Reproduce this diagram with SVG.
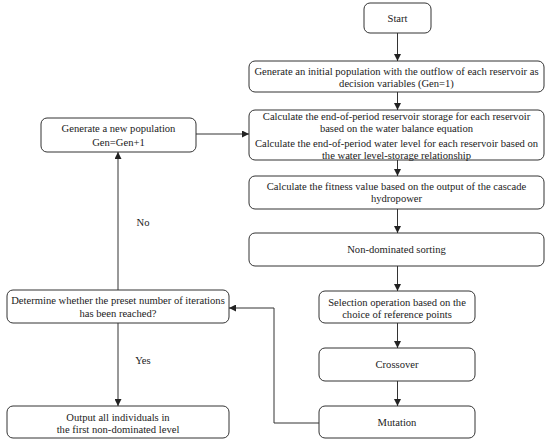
<svg xmlns="http://www.w3.org/2000/svg" width="550" height="442" viewBox="0 0 550 442">
<style>
.b{fill:#fff;stroke:#333;stroke-width:1}
.t{font-family:'Liberation Serif','Times New Roman',serif;font-size:10.6px;fill:#222;text-anchor:middle}
.c{fill:none;stroke:#333;stroke-width:1}
</style>
<defs>
<marker id="a" viewBox="0 0 8 8" refX="8" refY="4" markerWidth="7" markerHeight="7" markerUnits="userSpaceOnUse" orient="auto">
<path d="M0,0 L8,4 L0,8 z" fill="#222"/>
</marker>
</defs>
<rect width="550" height="442" fill="#fff"/>
<g id="start"><rect class="b" x="364" y="3" width="67" height="30" rx="6"/><text class="t" x="397.5" y="22">Start</text></g>
<g id="init"><rect class="b" x="249" y="61" width="295" height="31" rx="6"/><text class="t" x="396.5" y="75">Generate an initial population with the outflow of each reservoir as</text><text class="t" x="396.5" y="87">decision variables (Gen=1)</text></g>
<g id="calc"><rect class="b" x="249" y="110" width="295" height="50" rx="6"/><text class="t" x="396.5" y="120">Calculate the end-of-period reservoir storage for each reservoir</text><text class="t" x="396.5" y="132">based on the water balance equation</text><text class="t" x="396.5" y="147">Calculate the end-of-period water level for each reservoir based on</text><text class="t" x="396.5" y="159">the water level-storage relationship</text></g>
<g id="fitness"><rect class="b" x="249" y="176" width="295" height="33" rx="6"/><text class="t" x="396.5" y="190">Calculate the fitness value based on the output of the cascade</text><text class="t" x="396.5" y="202">hydropower</text></g>
<g id="nds"><rect class="b" x="249" y="233" width="295" height="33" rx="6"/><text class="t" x="396.5" y="253">Non-dominated sorting</text></g>
<g id="selection"><rect class="b" x="319" y="291" width="156" height="32" rx="6"/><text class="t" x="397" y="306">Selection operation based on the</text><text class="t" x="397" y="318">choice of reference points</text></g>
<g id="crossover"><rect class="b" x="319" y="348" width="156" height="33" rx="6"/><text class="t" x="397" y="368">Crossover</text></g>
<g id="mutation"><rect class="b" x="319" y="406" width="156" height="32" rx="6"/><text class="t" x="397" y="426">Mutation</text></g>
<g id="newpop"><rect class="b" x="41" y="118" width="155" height="34" rx="6"/><text class="t" x="118.5" y="132">Generate a new population</text><text class="t" x="118.5" y="146">Gen=Gen+1</text></g>
<g id="determine"><rect class="b" x="7" y="290" width="222" height="33" rx="6"/><text class="t" x="118" y="304">Determine whether the preset number of iterations</text><text class="t" x="118" y="317">has been reached?</text></g>
<g id="output"><rect class="b" x="7" y="406" width="222" height="32" rx="6"/><text class="t" x="118" y="421">Output all individuals in</text><text class="t" x="118" y="433">the first non-dominated level</text></g>
<g id="connectors">
<path class="c" d="M397.5,33 V61" marker-end="url(#a)"/>
<path class="c" d="M397.5,92 V110" marker-end="url(#a)"/>
<path class="c" d="M397.5,160 V176" marker-end="url(#a)"/>
<path class="c" d="M397.5,209 V233" marker-end="url(#a)"/>
<path class="c" d="M397.5,266 V291" marker-end="url(#a)"/>
<path class="c" d="M397.5,323 V348" marker-end="url(#a)"/>
<path class="c" d="M397.5,381 V406" marker-end="url(#a)"/>
<path class="c" d="M319,423 H274 V308 H229" marker-end="url(#a)"/>
<path class="c" d="M118,290 V152" marker-end="url(#a)"/>
<path class="c" d="M118,323 V406" marker-end="url(#a)"/>
<path class="c" d="M196,134 H249" marker-end="url(#a)"/>
<text class="t" x="143" y="226">No</text>
<text class="t" x="143" y="364">Yes</text>
</g>
</svg>
